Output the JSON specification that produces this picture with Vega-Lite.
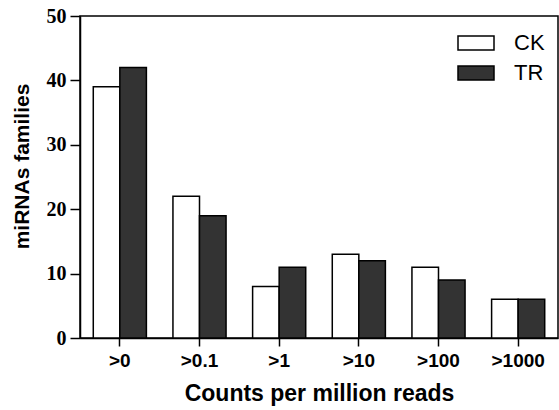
{
  "$schema": "https://vega.github.io/schema/vega-lite/v6.json",
  "width": 478,
  "height": 322,
  "autosize": "none",
  "padding": {"left": 80, "top": 16, "right": 1, "bottom": 72},
  "background": "white",
  "config": {
    "view": {"stroke": "black", "strokeWidth": 1.5},
    "axis": {"grid": false, "domainColor": "black", "domainWidth": 1.5, "tickColor": "black", "tickWidth": 1.5, "labelColor": "black", "titleColor": "black"}
  },
  "data": {
    "values": [
      {"cat": ">0", "group": "CK", "value": 39},
      {"cat": ">0", "group": "TR", "value": 42},
      {"cat": ">0.1", "group": "CK", "value": 22},
      {"cat": ">0.1", "group": "TR", "value": 19},
      {"cat": ">1", "group": "CK", "value": 8},
      {"cat": ">1", "group": "TR", "value": 11},
      {"cat": ">10", "group": "CK", "value": 13},
      {"cat": ">10", "group": "TR", "value": 12},
      {"cat": ">100", "group": "CK", "value": 11},
      {"cat": ">100", "group": "TR", "value": 9},
      {"cat": ">1000", "group": "CK", "value": 6},
      {"cat": ">1000", "group": "TR", "value": 6}
    ]
  },
  "mark": {"type": "bar", "stroke": "black", "strokeWidth": 1.5, "opacity": 1},
  "encoding": {
    "x": {
      "field": "cat", "type": "nominal", "sort": [">0", ">0.1", ">1", ">10", ">100", ">1000"],
      "scale": {"paddingInner": 0.3333, "paddingOuter": 0.1667},
      "axis": {"title": "Counts per million reads", "labelAngle": 0, "labelFont": "Liberation Sans", "labelFontWeight": "bold", "labelFontSize": 19, "labelPadding": 5, "tickSize": 8, "titleFont": "Liberation Sans", "titleFontWeight": "bold", "titleFontSize": 23, "titlePadding": 12}
    },
    "xOffset": {"field": "group", "type": "nominal", "scale": {"paddingInner": 0, "paddingOuter": 0}},
    "y": {
      "field": "value", "type": "quantitative",
      "scale": {"domain": [0, 50], "nice": false},
      "axis": {"title": "miRNAs families", "values": [0, 10, 20, 30, 40, 50], "labelFont": "Liberation Serif", "labelFontWeight": "bold", "labelFontSize": 20, "labelPadding": 4, "tickSize": 10, "titleFont": "Liberation Sans", "titleFontWeight": "bold", "titleFontSize": 21, "titlePadding": 14, "titleY": 150}
    },
    "fill": {
      "field": "group", "type": "nominal",
      "scale": {"domain": ["CK", "TR"], "range": ["white", "#333333"]},
      "legend": {"title": null, "orient": "none", "legendX": 385, "legendY": 16, "padding": 0, "symbolType": "M-1.8,-0.7H1.8V0.7H-1.8Z", "symbolSize": 400, "symbolStrokeColor": "black", "symbolStrokeWidth": 1.5, "symbolOpacity": 1, "labelFont": "Liberation Sans", "labelFontSize": 22, "labelColor": "black", "labelOffset": 27, "rowPadding": 8}
    }
  }
}
